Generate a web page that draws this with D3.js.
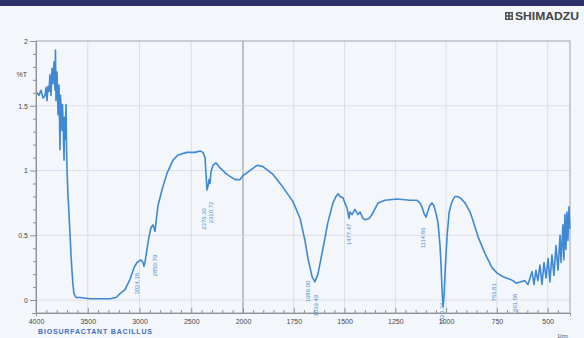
<html>
<head>
<script src="https://d3js.org/d3.v7.min.js" charset="utf-8"></script>
<style>
  body { margin: 0; background: #f3f6fa; font-family: "Liberation Sans", Arial, sans-serif; }
  svg { display: block; }
</style>
</head>
<body>
<script>
// spectrum readings (wavenumber in 1/cm, %T as in the print)
var wavenumber = [3990, 3971, 3952, 3932, 3913, 3903, 3894, 3884, 3874, 3865, 3855, 3845, 3836, 3826, 3816, 3812,
  3807, 3797, 3787, 3778, 3768, 3763, 3758, 3749, 3744, 3739, 3729, 3725, 3720, 3710, 3705, 3700, 3691, 3681,
  3671, 3662, 3652, 3643, 3633, 3614, 3575, 3478, 3382, 3285, 3227, 3188, 3140, 3092, 3053, 3024, 2986, 2966,
  2957, 2947, 2928, 2908, 2889, 2870, 2860, 2850, 2841, 2821, 2783, 2734, 2676, 2628, 2541, 2464, 2415, 2386,
  2367, 2357, 2348, 2338, 2328, 2319, 2309, 2290, 2261, 2222, 2155, 2077, 2029, 2000, 1966, 1931, 1902, 1852,
  1803, 1754, 1719, 1695, 1680, 1670, 1660, 1646, 1631, 1606, 1582, 1557, 1542, 1532, 1522, 1508, 1498, 1488,
  1478, 1473, 1463, 1449, 1434, 1424, 1409, 1399, 1380, 1365, 1335, 1301, 1242, 1178, 1143, 1129, 1119, 1109,
  1099, 1089, 1080, 1070, 1060, 1050, 1040, 1030, 1025, 1020, 1015, 1010, 1005, 995, 985, 971, 956, 946, 931,
  907, 882, 873, 843, 809, 774, 750, 720, 686, 671, 656, 636, 612, 597, 587, 577, 567, 558, 548, 538, 528, 518,
  508, 498, 489, 479, 469, 459, 449, 439, 434, 425, 420, 415, 410, 405, 400, 395, 391];
var transmittance = [1.60, 1.58, 1.62, 1.56, 1.58, 1.64, 1.54, 1.65, 1.61, 1.74, 1.58, 1.79, 1.67, 1.84, 1.62, 1.93,
  1.54, 1.76, 1.43, 1.66, 1.16, 1.58, 1.47, 1.31, 1.51, 1.39, 1.08, 1.41, 1.24, 1.51, 1.16, 1.00, 0.81, 0.66,
  0.50, 0.35, 0.22, 0.12, 0.05, 0.02, 0.02, 0.01, 0.01, 0.01, 0.02, 0.05, 0.08, 0.16, 0.25, 0.29, 0.31, 0.29,
  0.26, 0.29, 0.39, 0.49, 0.56, 0.58, 0.56, 0.53, 0.60, 0.73, 0.85, 0.98, 1.08, 1.12, 1.14, 1.14, 1.15, 1.14,
  1.10, 0.97, 0.85, 0.88, 0.93, 0.90, 0.99, 1.04, 1.06, 1.02, 0.97, 0.93, 0.93, 0.96, 1.00, 1.04, 1.03, 0.97,
  0.87, 0.76, 0.63, 0.46, 0.32, 0.25, 0.18, 0.14, 0.20, 0.40, 0.60, 0.75, 0.80, 0.82, 0.80, 0.79, 0.75, 0.71,
  0.63, 0.68, 0.66, 0.70, 0.66, 0.68, 0.63, 0.62, 0.63, 0.66, 0.75, 0.77, 0.78, 0.77, 0.77, 0.75, 0.72, 0.67,
  0.64, 0.69, 0.73, 0.75, 0.73, 0.67, 0.60, 0.42, 0.27, 0.08, -0.05, 0.04, 0.22, 0.50, 0.68, 0.76, 0.80, 0.80, 0.79,
  0.75, 0.68, 0.64, 0.49, 0.36, 0.25, 0.21, 0.18, 0.16, 0.15, 0.13, 0.14, 0.15, 0.12, 0.17, 0.22, 0.12, 0.23, 0.15,
  0.27, 0.12, 0.29, 0.17, 0.32, 0.14, 0.35, 0.19, 0.42, 0.23, 0.50, 0.29, 0.58, 0.31, 0.66, 0.39, 0.68, 0.46, 0.72, 0.55];

// peak picks: position, printed text, %T where the text starts
var peakWn = [3024, 2850, 2377, 2309, 1680, 1640, 1478, 1114, 1020, 764, 661];
var peakText = ["3024.18", "2850.79", "2376.30", "2310.72", "1680.00", "1639.49", "1477.47", "1114.86", "1020.34", "763.81", "661.58"];
var peakTop = [0.21, 0.35, 0.71, 0.76, 0.15, 0.04, 0.59, 0.56, -0.02, 0.13, 0.05];

var xTicks = [4000, 3500, 3000, 2500, 2000, 1750, 1500, 1250, 1000, 750, 500];
var yTicks = [0, 0.5, 1, 1.5, 2];

var width = 584, height = 338;

var svg = d3.select("body").append("svg")
  .attr("width", width)
  .attr("height", height);

svg.append("rect").attr("width", width).attr("height", height).attr("fill", "#f3f6fa");
// dark band across the top of the photo
svg.append("rect").attr("width", width).attr("height", 6).attr("fill", "#2c2f68");

// x is expanded 2x below 2000 like the printout
var x = d3.scaleLinear().domain([4000, 2000, 390]).range([36, 243, 570]);
var y = d3.scaleLinear().domain([-0.1, 2]).range([313, 41]);

var g = svg.append("g");

// grid
g.selectAll(".vgrid")
  .data(xTicks.slice(1))
  .enter().append("line")
  .attr("x1", d => x(d)).attr("x2", d => x(d))
  .attr("y1", y(2)).attr("y2", y(-0.1))
  .attr("stroke", d => d == 2000 ? "#8a8d92" : "#d5d9de")
  .attr("stroke-width", d => d == 2000 ? 1 : 0.8);

g.selectAll(".hgrid")
  .data(yTicks.slice(0, 4))
  .enter().append("line")
  .attr("x1", x(4000)).attr("x2", x(390))
  .attr("y1", d => y(d)).attr("y2", d => y(d))
  .attr("stroke", "#d5d9de")
  .attr("stroke-width", 0.8);

// frame
g.append("rect")
  .attr("x", x(4000)).attr("y", y(2))
  .attr("width", x(390) - x(4000)).attr("height", y(-0.1) - y(2))
  .attr("fill", "none")
  .attr("stroke", "#9a9ca0")
  .attr("stroke-width", 0.9);

// axes
var yAxis = d3.axisLeft(y)
  .tickValues(d3.range(0, 2.01, 0.1))
  .tickSize(4)
  .tickFormat(d => yTicks.some(t => Math.abs(t - d) < 1e-6) ? d3.format("~g")(d) : "");
var ya = svg.append("g").attr("transform", "translate(" + x(4000) + ",0)").call(yAxis);
ya.selectAll(".tick line").attr("x2", d => yTicks.some(t => Math.abs(t - d) < 1e-6) ? -6 : -3);

var minorX = d3.range(4000, 2000, -100).concat(d3.range(2000, 449, -50));
var xAxis = d3.axisBottom(x)
  .tickValues(minorX)
  .tickSize(3)
  .tickFormat(d => xTicks.indexOf(d) >= 0 ? d : "");
var xa = svg.append("g").attr("transform", "translate(0," + y(-0.1) + ")").call(xAxis);
xa.selectAll(".tick line").attr("y2", d => xTicks.indexOf(d) >= 0 ? -5 : -3);

[ya, xa].forEach(function(a) {
  a.select(".domain").attr("stroke", "#8d9094");
  a.selectAll(".tick line").attr("stroke", "#8d9094");
  a.selectAll("text").attr("fill", "#45484d").style("font-size", "7px").style("font-family", "Liberation Sans, Arial, sans-serif");
});
xa.selectAll("text").attr("y", 6);
ya.selectAll("text").attr("x", -8);

svg.append("text")
  .attr("x", 27).attr("y", 77)
  .attr("text-anchor", "end")
  .attr("fill", "#45484d")
  .style("font-size", "7px")
  .text("%T");

// spectrum
var line = d3.line()
  .x((d, i) => x(wavenumber[i]))
  .y(d => y(d));

g.append("path")
  .datum(transmittance)
  .attr("fill", "none")
  .attr("stroke", "#3f88d3")
  .attr("stroke-width", 1.6)
  .attr("stroke-linejoin", "round")
  .attr("d", line);

// peak labels
g.selectAll(".peak")
  .data(peakWn)
  .enter().append("text")
  .attr("transform", (d, i) => "translate(" + (x(d) + 2) + "," + y(peakTop[i]) + ") rotate(-90)")
  .attr("text-anchor", "end")
  .attr("fill", "#4b8dd2")
  .style("font-size", "6px")
  .text((d, i) => peakText[i]);

// captions
svg.append("text")
  .attr("x", 38).attr("y", 334)
  .attr("fill", "#3f6fc4")
  .attr("font-weight", "bold")
  .attr("textLength", 114)
  .style("font-size", "7px")
  .text("BIOSURFACTANT BACILLUS");

svg.append("text")
  .attr("x", 568).attr("y", 338)
  .attr("text-anchor", "end")
  .attr("fill", "#45484d")
  .style("font-size", "5px")
  .text("1/cm");

// maker logo
var logo = svg.append("g").attr("transform", "translate(505,12)");
logo.append("rect").attr("width", 8).attr("height", 8).attr("fill", "#555");
logo.append("rect").attr("x", 1.5).attr("y", 1.5).attr("width", 5).attr("height", 5).attr("fill", "#f3f6fa");
logo.append("rect").attr("x", 0).attr("y", 3.2).attr("width", 8).attr("height", 1.6).attr("fill", "#555");
logo.append("rect").attr("x", 3.2).attr("y", 0).attr("width", 1.6).attr("height", 8).attr("fill", "#555");
logo.append("text")
  .attr("x", 10).attr("y", 8)
  .attr("fill", "#444448")
  .attr("font-weight", "bold")
  .attr("textLength", 64)
  .attr("lengthAdjust", "spacingAndGlyphs")
  .style("font-size", "10px")
  .text("SHIMADZU");
</script>
</body>
</html>
